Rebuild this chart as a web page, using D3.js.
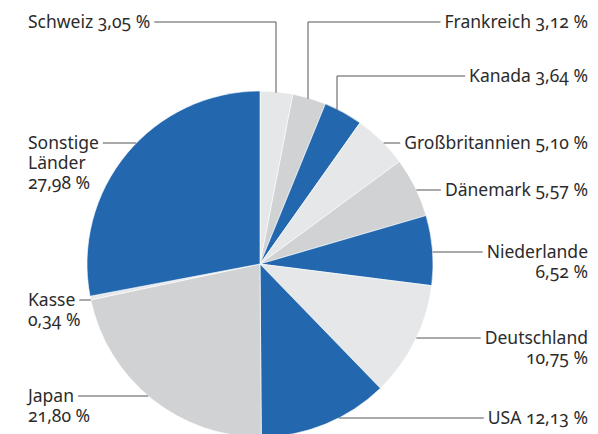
<!DOCTYPE html>
<html>
<head>
<meta charset="utf-8">
<script src="https://cdn.jsdelivr.net/npm/d3@7"></script>
<style>
  body { margin: 0; background: #fff; }
  text { font-family: "Noto Sans", sans-serif; font-size: 17.5px; fill: #2b2b2b;
         font-variant-numeric: oldstyle-nums; }
</style>
</head>
<body>
<div id="chart"></div>
<script>
// shares in percent, clockwise from 12 o'clock
var countries = ["Schweiz", "Frankreich", "Kanada", "Großbritannien", "Dänemark",
                 "Niederlande", "Deutschland", "USA", "Japan", "Kasse", "Sonstige Länder"];
var shares = [3.05, 3.12, 3.64, 5.10, 5.57, 6.52, 10.75, 12.13, 21.80, 0.34, 27.98];

var blue = "#2368ae", light = "#e6e7e9", mid = "#d1d2d4";
var sliceColors = [light, mid, blue, light, mid, blue, light, blue, mid, light, blue];

var width = 598, height = 434;
var cx = 260, cy = 264, radius = 173;

// where each label sits (side, y of the leader line, elbow x if any, how to break the text)
var labelLayout = [
  { side: "left",  y: 22,  elbow: 276, lines: "one" },
  { side: "right", y: 22,  elbow: 308, lines: "one" },
  { side: "right", y: 76,  elbow: 337, lines: "one" },
  { side: "right", y: 143, lines: "one" },
  { side: "right", y: 190, lines: "one" },
  { side: "right", y: 252, lines: "two" },
  { side: "right", y: 338, lines: "two" },
  { side: "right", y: 418, lines: "one" },
  { side: "left",  y: 396, lines: "two" },
  { side: "left",  y: 300, lines: "two" },
  { side: "left",  y: 143, lines: "three" }
];

var de = d3.formatLocale({ decimal: ",", thousands: ".", grouping: [3], currency: ["", " €"] });
var fmt = de.format(".2f");

var svg = d3.select("#chart").append("svg")
    .attr("width", width)
    .attr("height", height);

var pie = d3.pie().sort(null).value(function(d) { return d; });
var arc = d3.arc().innerRadius(0).outerRadius(radius);

var g = svg.append("g").attr("transform", "translate(" + cx + "," + cy + ")");

g.selectAll(".slice")
    .data(pie(shares))
    .enter().append("path")
    .attr("class", "slice")
    .attr("d", arc)
    .attr("fill", function(d, i) { return sliceColors[i]; })
    .attr("stroke", "#fff")
    .attr("stroke-width", 0.6);

var lineH = 20;

labelLayout.forEach(function(lay, i) {
  var value = fmt(shares[i]) + " %";
  var rows;
  if (lay.lines == "one") rows = [countries[i] + " " + value];
  else if (lay.lines == "two") rows = [countries[i], value];
  else rows = countries[i].split(" ").concat([value]);

  var textX = lay.side == "left" ? 28 : 588;
  var t = svg.append("text")
      .attr("text-anchor", lay.side == "left" ? "start" : "end");
  rows.forEach(function(r, k) {
    t.append("tspan")
        .attr("x", textX)
        .attr("y", lay.y + 6 + k * lineH)
        .text(r);
  });

  var firstW = t.select("tspan").node().getComputedTextLength();
  var nearX = lay.side == "left" ? textX + firstW + 4 : textX - firstW - 4;

  var pts;
  if (lay.elbow != null) {
    var dx = lay.elbow - cx;
    var edgeY = cy - Math.sqrt(radius * radius - dx * dx);
    pts = [[nearX, lay.y], [lay.elbow, lay.y], [lay.elbow, edgeY + 1]];
  } else {
    var dy = lay.y - cy;
    var half = Math.sqrt(radius * radius - dy * dy);
    var edgeX = lay.side == "left" ? cx - half : cx + half;
    pts = [[nearX, lay.y], [edgeX, lay.y]];
  }

  svg.append("path")
      .attr("d", d3.line()(pts))
      .attr("fill", "none")
      .attr("stroke", "#555")
      .attr("stroke-width", 1);
});
</script>
</body>
</html>
